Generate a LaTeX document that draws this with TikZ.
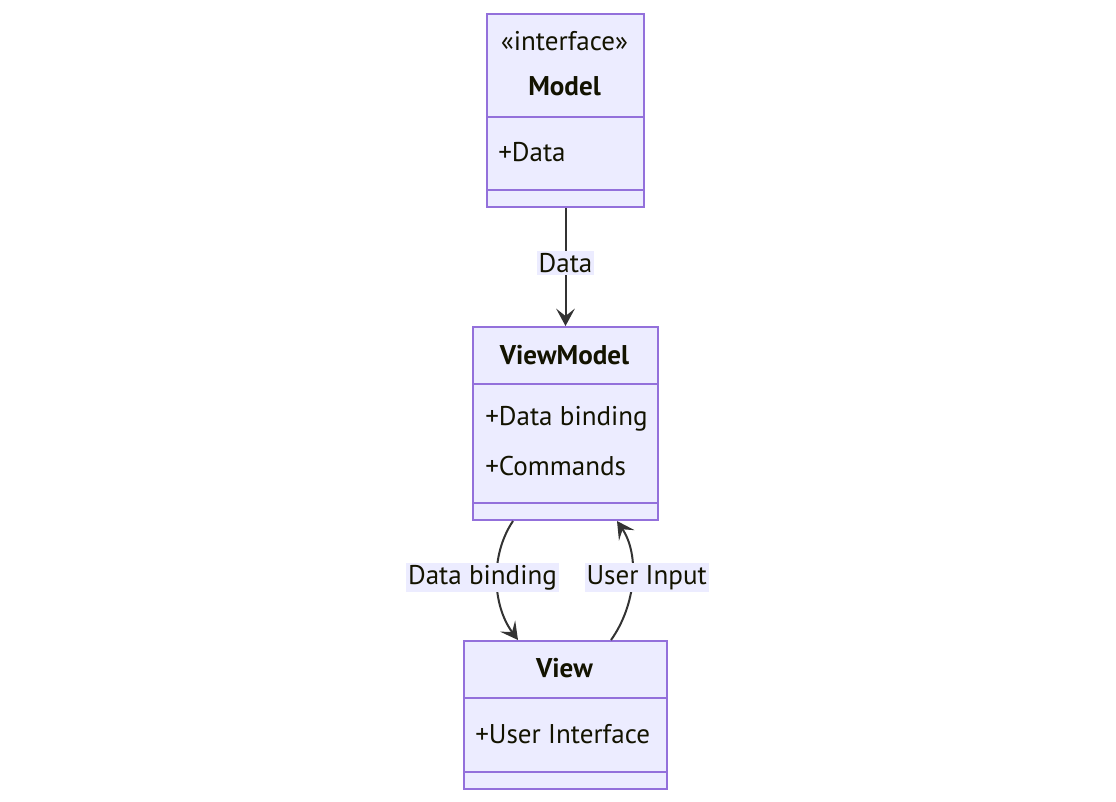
\documentclass[tikz,border=0pt]{standalone}
\usepackage{fontspec}
\setmainfont{PT Sans}
\usetikzlibrary{arrows.meta,calc}

\definecolor{boxfill}{HTML}{ECECFF}
\definecolor{boxline}{HTML}{9370DB}
\definecolor{edgeline}{HTML}{333333}
\definecolor{txtcol}{HTML}{131300}

\tikzset{
  classbox/.style={draw=boxline, fill=boxfill, line width=1.5pt, inner sep=0pt, anchor=north west},
  divider/.style={draw=boxline, line width=1.5pt},
  classname/.style={font=\bfseries\fontsize{20.3}{24}\selectfont, text=txtcol, inner sep=0pt},
  member/.style={font=\fontsize{20.3}{24}\selectfont, text=txtcol, inner sep=0pt, anchor=west},
  relation/.style={draw=edgeline, line width=1.5pt, -{Stealth[length=13pt,width=14pt,inset=5.5pt]}},
  edgelabel/.style={font=\fontsize{20.3}{24}\selectfont, text=txtcol, fill=boxfill, inner sep=1.5pt}
}

\begin{document}
\begin{tikzpicture}[x=0.75pt,y=0.75pt,yscale=-1,xscale=1]
  \useasboundingbox (0,0) rectangle (1116,801);

  %Class: Model
  \node[classbox, minimum width=117.75pt, minimum height=144.75pt] (model) at (486,13) {};
  \draw[divider] ($(model.north west)+(0,104)$) -- ($(model.north east)+(0,104)$);
  \draw[divider] ($(model.south west)+(0,-18)$) -- ($(model.south east)+(0,-18)$);
  \node[member, anchor=center] (modelstereo) at (564.5,41) {«interface»};
  \node[classname] (modelname) at (564.5,86) {Model};
  \node[member] (modeldata) at (498,152) {+Data};

  %Class: ViewModel
  \node[classbox, minimum width=138.75pt, minimum height=144.75pt] (viewmodel) at (472,326) {};
  \draw[divider] ($(viewmodel.north west)+(0,58)$) -- ($(viewmodel.north east)+(0,58)$);
  \draw[divider] ($(viewmodel.south west)+(0,-18)$) -- ($(viewmodel.south east)+(0,-18)$);
  \node[classname] (vmname) at (564.5,355) {ViewModel};
  \node[member] (vmbinding) at (485,419) {+Data binding};
  \node[member] (vmcommands) at (485,466) {+Commands};

  %Class: View
  \node[classbox, minimum width=152.25pt, minimum height=111pt] (view) at (463,640) {};
  \draw[divider] ($(view.north west)+(0,58)$) -- ($(view.north east)+(0,58)$);
  \draw[divider] ($(view.south west)+(0,-18)$) -- ($(view.south east)+(0,-18)$);
  \node[classname] (viewname) at (564.5,668) {View};
  \node[member] (viewui) at (475,734) {+User Interface};

  %Relations
  \draw[relation] (model.south) -- (viewmodel.north) node[midway, yshift=3pt, edgelabel] {Data};
  \draw[relation] ($(viewmodel.south west)+(41,0)$) .. controls (490,555) and (492,605) .. ($(view.north west)+(55,0)$)
    node[pos=0.5, xshift=-11pt, yshift=2pt, edgelabel] {Data binding};
  \draw[relation] ($(view.north west)+(148,0)$) .. controls (636,605) and (640,555) .. ($(viewmodel.south west)+(145,0)$)
    node[pos=0.5, xshift=11pt, yshift=2pt, edgelabel] {User Input};

\end{tikzpicture}
\end{document}
